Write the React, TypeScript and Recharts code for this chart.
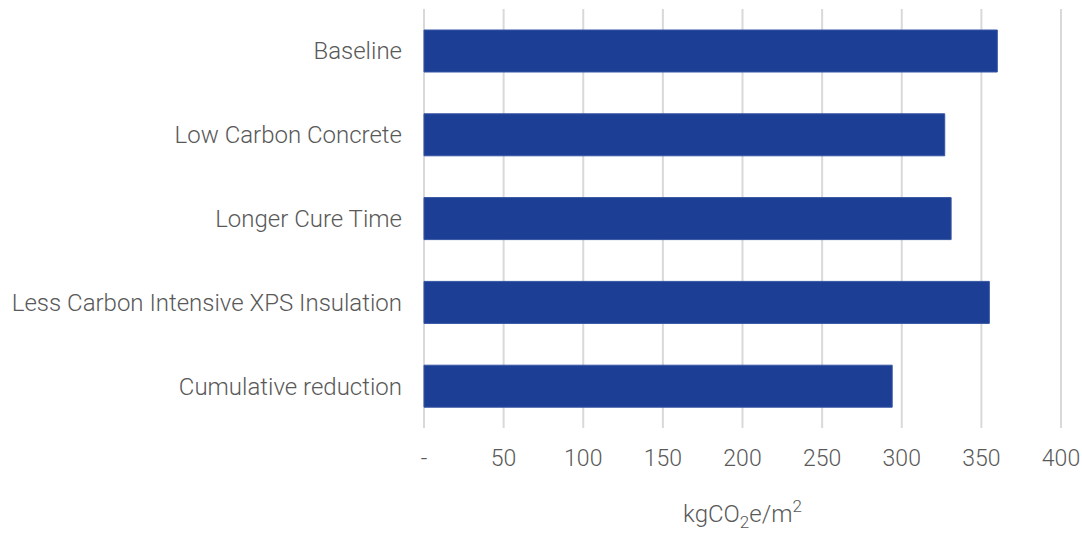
import { BarChart, Bar, XAxis, YAxis, CartesianGrid } from 'recharts';

const categories = [
  'Baseline',
  'Low Carbon Concrete',
  'Longer Cure Time',
  'Less Carbon Intensive XPS Insulation',
  'Cumulative reduction',
];
const emissions = [360, 327, 331, 355, 294];
const xTicks = [0, 50, 100, 150, 200, 250, 300, 350, 400];

const data = categories.map((name, i) => ({ name, value: emissions[i] }));

const FONT = '"Roboto Light", Roboto, "Open Sans", sans-serif';
const TEXT = '#595959';

function formatTick(v: number): string {
  return v === 0 ? '-' : String(v);
}

const UnitLabel = (props: any) => {
  const viewBox = props.viewBox;
  if (!viewBox) return null;
  const cx = viewBox.x + viewBox.width / 2;
  return (
    <text
      x={cx}
      y={viewBox.y + 94}
      textAnchor="middle"
      fill={TEXT}
      fontFamily={FONT}
      fontWeight={300}
      fontSize={24}
    >
      kgCO
      <tspan fontSize={17} dy={6}>2</tspan>
      <tspan fontSize={24} dy={-6}>e/m</tspan>
      <tspan fontSize={17} dy={-10}>2</tspan>
    </text>
  );
};

export default function App() {
  return (
    <div style={{ position: 'absolute', left: 0, top: 0, width: 1082, height: 533, background: '#fff' }}>
      <BarChart
        width={1082}
        height={533}
        data={data}
        layout="vertical"
        margin={{ top: 9, right: 21, bottom: 0, left: 0 }}
      >
        <CartesianGrid horizontal={false} stroke="#d9d9d9" strokeWidth={2} />
        <XAxis
          type="number"
          domain={[0, 400]}
          ticks={xTicks}
          tickFormatter={formatTick}
          axisLine={false}
          tickLine={false}
          tickMargin={16}
          height={105}
          tick={{ fontSize: 23, fill: TEXT, fontFamily: FONT, fontWeight: 300 }}
          label={UnitLabel}
        />
        <YAxis
          type="category"
          dataKey="name"
          width={424}
          axisLine={false}
          tickLine={false}
          tickMargin={16}
          interval={0}
          tick={{ fontSize: 24, fill: TEXT, fontFamily: FONT, fontWeight: 300 }}
        />
        <Bar
          dataKey="value"
          fill="#1c3e94"
          stroke="#3655a3"
          strokeWidth={1}
          barSize={42}
          isAnimationActive={false}
        />
      </BarChart>
    </div>
  );
}
